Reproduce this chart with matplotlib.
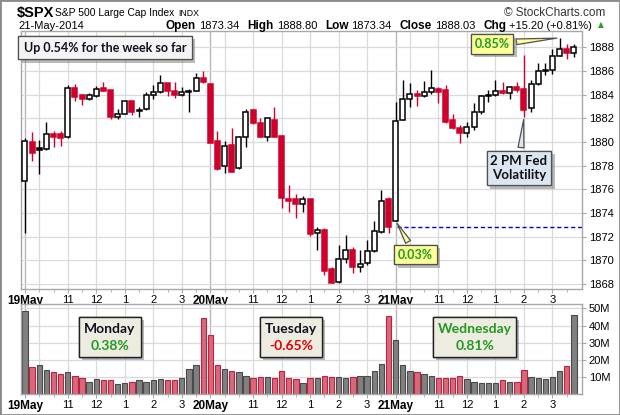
import matplotlib
matplotlib.use('Agg')
import matplotlib.pyplot as plt
import matplotlib.patheffects as pe
from matplotlib.patches import Rectangle
import numpy as np

W, H = 620, 415

# ---------------- data (15-minute bars, 19-21 May 2014) ----------------
op = [1876.7, 1880.0, 1879.5, 1879.4, 1880.7, 1880.7, 1880.4, 1884.6, 1884.0, 1883.65, 1883.9, 1884.55, 1884.4,
      1882.1, 1882.4, 1883.45, 1882.72, 1882.75, 1883.95, 1884.2, 1884.95, 1884.3, 1884.0, 1884.25, 1884.35, 1885.4,
      1884.9, 1880.1, 1878.0, 1879.75, 1877.8, 1880.4, 1882.7, 1881.6, 1880.45, 1881.9, 1880.5, 1875.2, 1875.2,
      1874.75, 1875.15, 1872.3, 1872.6, 1869.25, 1868.15, 1870.1, 1870.9, 1869.45, 1869.8, 1870.75, 1872.4, 1875.15,
      1873.34, 1881.9, 1883.6, 1884.05, 1883.85, 1884.2, 1884.45, 1884.4, 1881.85, 1881.15, 1880.8, 1881.25, 1882.5,
      1883.95, 1883.95, 1884.3, 1884.15, 1884.65, 1884.5, 1882.85, 1884.9, 1886.05, 1886.05, 1887.3, 1887.85, 1887.55]
hi = [1880.3, 1880.85, 1880.15, 1881.7, 1880.95, 1880.95, 1884.8, 1884.9, 1884.1, 1884.15, 1884.75, 1885.05, 1884.4,
      1882.75, 1883.45, 1883.45, 1882.95, 1884.2, 1884.8, 1885.65, 1884.95, 1885.1, 1884.65, 1884.5, 1885.85, 1886.0,
      1884.95, 1880.9, 1880.05, 1881.15, 1880.5, 1882.8, 1882.8, 1882.0, 1882.05, 1883.0, 1880.6, 1876.35, 1875.6,
      1875.4, 1875.2, 1872.85, 1872.7, 1869.45, 1871.3, 1872.15, 1871.1, 1870.85, 1871.75, 1873.35, 1875.95, 1875.35,
      1883.4, 1885.2, 1884.95, 1884.4, 1885.15, 1886.1, 1884.65, 1884.8, 1882.35, 1881.45, 1881.7, 1883.3, 1884.0,
      1884.4, 1885.25, 1885.05, 1884.7, 1885.05, 1887.35, 1885.25, 1886.65, 1886.7, 1887.85, 1888.8, 1888.3, 1888.3]
lo = [1872.3, 1878.4, 1877.3, 1879.3, 1879.6, 1879.7, 1880.3, 1883.5, 1883.15, 1883.55, 1883.8, 1884.3, 1881.95,
      1881.95, 1882.35, 1882.3, 1882.15, 1882.7, 1883.65, 1884.15, 1883.85, 1883.75, 1883.9, 1882.55, 1884.3, 1885.0,
      1879.9, 1877.6, 1877.4, 1877.45, 1877.7, 1879.6, 1881.55, 1880.4, 1880.1, 1880.4, 1874.45, 1874.1, 1873.6,
      1874.1, 1872.05, 1870.85, 1868.8, 1868.1, 1868.1, 1869.8, 1868.95, 1869.05, 1869.6, 1870.7, 1872.35, 1872.3,
      1873.34, 1881.85, 1883.0, 1883.05, 1883.8, 1884.1, 1883.3, 1881.65, 1881.1, 1879.9, 1880.4, 1881.0, 1882.4,
      1883.4, 1883.9, 1884.1, 1883.6, 1884.25, 1882.15, 1882.5, 1884.85, 1885.65, 1885.75, 1887.3, 1887.0, 1887.15]
cl = [1880.1, 1879.1, 1879.3, 1880.7, 1880.4, 1880.35, 1884.55, 1883.8, 1883.65, 1884.0, 1884.5, 1884.35, 1882.15,
      1882.4, 1883.45, 1882.55, 1882.6, 1883.95, 1884.2, 1884.95, 1884.35, 1883.95, 1884.2, 1884.2, 1885.4, 1885.1,
      1879.95, 1877.7, 1879.7, 1877.5, 1880.4, 1882.5, 1881.6, 1880.45, 1882.0, 1880.45, 1875.3, 1875.05, 1874.75,
      1875.15, 1872.25, 1872.6, 1869.1, 1868.1, 1870.15, 1870.9, 1869.45, 1869.7, 1870.75, 1872.45, 1875.05, 1872.83,
      1881.8, 1883.6, 1884.1, 1883.85, 1884.2, 1884.6, 1884.25, 1881.7, 1881.2, 1880.8, 1881.25, 1882.5, 1883.9,
      1883.9, 1884.3, 1884.15, 1884.65, 1884.4, 1882.7, 1884.9, 1886.0, 1886.0, 1887.25, 1887.85, 1887.55, 1888.03]
vol_m = [48.4, 15.5, 16.7, 14.3, 12.6, 11.4, 12.6, 10.8, 9.1, 7.3, 8.5, 7.9, 7.9, 6.1, 6.7, 7.3, 7.9, 7.3, 7.9, 8.5,
         7.9, 7.9, 9.6, 14.9, 17.2, 44.7,
         34.2, 16.7, 14.9, 13.7, 12.6, 10.8, 9.6, 10.2, 10.2, 9.6, 13.2, 9.1, 8.5, 6.7, 9.1, 9.6, 10.8, 10.2, 10.2,
         9.6, 10.2, 10.8, 10.8, 13.7, 17.8, 45.3,
         31.3, 16.7, 13.2, 12.6, 11.4, 10.8, 9.6, 9.1, 9.1, 10.8, 8.5, 7.3, 6.7, 6.7, 6.7, 7.9, 7.3, 7.3, 14.3, 10.2,
         9.6, 8.5, 10.2, 13.2, 16.1, 45.9]

day_labels = ['19May', '20May', '21May']
hour_labels = ['11', '12', '1', '2', '3']
bars_per_day = 26
hour_offsets = [6, 10, 14, 18, 22]
grid_offsets = [2, 6, 10, 14, 18, 22]
price_ticks = list(range(1868, 1889, 2))
vol_ticks = [10, 20, 30, 40, 50]

week_note = 'Up 0.54% for the week so far'
day_names = ['Monday', 'Tuesday', 'Wednesday']
day_changes = ['0.38%', '-0.65%', '0.81%']
fed_note = '2 PM Fed\nVolatility'

# ---------------- style ----------------
RED = '#D0002D'
GREEN = '#1E9A1E'
GRID = '#DADADA'
DAYGRID = '#B8B8B8'
SPINE = '#A8A8A8'
ANN_FONT = ['Lato', 'DejaVu Sans']
TXT_FONT = ['Liberation Sans', 'DejaVu Sans']
plt.rcParams['font.family'] = TXT_FONT

n = len(cl)
x = np.arange(n)
up = [True] + [cl[i] >= cl[i - 1] for i in range(1, n)]


def fx(px):
    return px / W


def fy(py):
    return 1 - py / H


fig = plt.figure(figsize=(W / 100, H / 100), dpi=100)
ax = fig.add_axes([fx(21), fy(289), fx(581.7) - fx(21), fy(31.5) - fy(289)])
axv = fig.add_axes([fx(21), fy(394), fx(581.7) - fx(21), fy(304) - fy(394)])

xmin, xmax = -0.56, 78.1
day_starts = [d * bars_per_day for d in range(len(day_labels))]
grid_pos = []
for d in day_starts:
    grid_pos += [d + g for g in grid_offsets]
label_pos, label_txt = [], []
for k, d in enumerate(day_starts):
    label_pos.append(d)
    label_txt.append(day_labels[k])
    for o, h in zip(hour_offsets, hour_labels):
        label_pos.append(d + o)
        label_txt.append(h)

for a in (ax, axv):
    a.set_xlim(xmin, xmax)
    for gp in grid_pos:
        a.axvline(gp, color=GRID, lw=0.9, zorder=0)
    for d in day_starts:
        a.axvline(d, color=DAYGRID, lw=1.0, zorder=0)
    for s in a.spines.values():
        s.set_color(SPINE)
        s.set_linewidth(1.0)
    a.yaxis.tick_right()
    a.tick_params(axis='y', which='both', direction='out', length=3, color=SPINE, labelsize=8, pad=2)
    a.set_xticks(label_pos)
    a.set_xticklabels(label_txt)
    a.set_xticks(np.arange(0, n, 2), minor=True)
    a.tick_params(axis='x', which='major', direction='out', length=3, color=SPINE, labelsize=8, pad=1.5)
    a.tick_params(axis='x', which='minor', direction='out', length=2, color=SPINE)
    for t in a.get_xticklabels():
        if t.get_text() in day_labels:
            t.set_fontweight('bold')
            t.set_fontsize(8.5)

# price panel
ax.set_ylim(1867.58, 1889.34)
ax.set_yticks(price_ticks)
ax.set_yticklabels([str(p) for p in price_ticks])
for p in price_ticks:
    ax.axhline(p, color=GRID, lw=0.9, zorder=0)

bw = 0.7
for i in range(n):
    c = 'black' if up[i] else RED
    ax.vlines(x[i], lo[i], hi[i], color=c, lw=1.0, zorder=2)
    b0 = min(op[i], cl[i])
    bh = max(abs(cl[i] - op[i]), 0.1)
    filled = cl[i] < op[i]
    ax.add_patch(Rectangle((x[i] - bw / 2, b0), bw, bh, facecolor=c if filled else 'white',
                           edgecolor=c, lw=1.1, zorder=3))

# previous close dashed line
ax.hlines(cl[day_starts[2] - 1], day_starts[2] + 0.2, xmax, colors='#0000CC',
          linestyles=(0, (3, 2)), lw=1.0, zorder=1)

# volume panel
axv.set_ylim(0, 52.6)
axv.set_yticks(vol_ticks)
axv.set_yticklabels([f'{v}M' for v in vol_ticks])
for v in vol_ticks:
    axv.axhline(v, color=GRID, lw=0.9, zorder=0)
vfc = ['#808080' if u else '#D46A7A' for u in up]
vec = ['#4A4A4A' if u else '#C22040' for u in up]
axv.bar(x, vol_m, width=0.75, color=vfc, edgecolor=vec, lw=0.8, zorder=2)

shadow = [pe.withSimplePatchShadow(offset=(2.5, -2.5), shadow_rgbFace='#777777', alpha=0.5), pe.Normal()]


def callout(text, xy, center, fc, color, fs):
    a = ax.annotate(text, xy=xy, xycoords='data', xytext=(center[0], H - center[1]),
                    textcoords='figure pixels', ha='center', va='center', fontsize=fs,
                    fontweight='bold', color=color, family=ANN_FONT, linespacing=1.25,
                    bbox=dict(boxstyle='square,pad=0.3', fc=fc, ec='#505050', lw=0.9),
                    arrowprops=dict(arrowstyle='wedge,tail_width=0.45,shrink_factor=0.5',
                                    fc=fc, ec='#505050', lw=0.9), zorder=6)
    a.get_bbox_patch().set_path_effects(shadow)
    return a


callout('0.85%', (int(np.argmax(hi)), max(hi)), (492, 44), '#FFFF99', GREEN, 9)
callout('0.03%', (day_starts[2], op[day_starts[2]]), (415.5, 254.5), '#FFFF99', GREEN, 9)
i_fed = day_starts[2] + int(np.argmin(lo[day_starts[2] + 14:day_starts[2] + 22])) + 14
callout(fed_note, (i_fed, lo[i_fed]), (519, 168), '#DCE6F2', '#111111', 9.5)

# week note
t = fig.text(fx(105), fy(47.5), week_note, ha='center', va='center', fontsize=9, fontweight='bold',
             family=ANN_FONT, color='#111122', zorder=6,
             bbox=dict(boxstyle='square,pad=0.45', fc='#F4F4F4', ec='#505050', lw=0.9))
t.get_bbox_patch().set_path_effects(shadow)

# day boxes in volume panel
boxes = [(79, 141), (260, 322), (433, 516)]
name_col = ['#111122', '#111122', GREEN]
chg_col = [GREEN, '#E00000', GREEN]
for (x0, x1), nm, ch, nc, cc in zip(boxes, day_names, day_changes, name_col, chg_col):
    r = Rectangle((fx(x0), fy(357)), fx(x1) - fx(x0), fy(317) - fy(357), transform=fig.transFigure,
                  facecolor='#EEECE1', edgecolor='#222222', lw=1.0, zorder=5)
    r.set_path_effects(shadow)
    fig.add_artist(r)
    xc = (x0 + x1) / 2
    fig.text(fx(xc), fy(328.5), nm, ha='center', va='center', fontsize=10, fontweight='bold',
             family=ANN_FONT, color=nc, zorder=6)
    fig.text(fx(xc), fy(346), ch, ha='center', va='center', fontsize=10, fontweight='bold',
             family=ANN_FONT, color=cc, zorder=6)

# header
renderer = fig.canvas.get_renderer()
fig.text(fx(17), fy(13), '$SPX', fontsize=10.5, fontweight='bold', va='center', ha='left')
nm_t = fig.text(fx(55), fy(13), 'S&P 500 Large Cap Index', fontsize=7.4, va='center', ha='left')
nb = nm_t.get_window_extent(renderer=renderer)
fig.text(fx(nb.x1 + 4), fy(13.5), 'INDX', fontsize=6.3, va='center', ha='left')
fig.text(fx(605), fy(13), '\u00a9 StockCharts.com', fontsize=8.5, va='center', ha='right', color='#333333')
fig.text(fx(18), fy(26), '21-May-2014', fontsize=8, va='center', ha='left')

d3 = slice(day_starts[2], n)
o3, h3, l3, c3 = op[d3][0], max(hi[d3]), min(lo[d3]), cl[-1]
prev = cl[day_starts[2] - 1]
chg = c3 - prev
parts = [('Open', True), (f'{o3:.2f}', False), ('High', True), (f'{h3:.2f}', False),
         ('Low', True), (f'{l3:.2f}', False), ('Close', True), (f'{c3:.2f}', False),
         ('Chg', True), (f'{chg:+.2f} ({chg / prev * 100:+.2f}%)', False)]
cx = 166
for s, bold in parts:
    tt = fig.text(fx(cx), fy(26), s, fontsize=8.5 if bold else 8, fontweight='bold' if bold else 'normal',
                  va='center', ha='left')
    bb = tt.get_window_extent(renderer=renderer)
    cx = bb.x1 + (3 if bold else 8)
fig.text(fx(cx - 2), fy(25), '\u25b2', fontsize=5.5, color='#2E9B2E', va='center', ha='left',
         family=['DejaVu Sans'])

# outer frame
fig.add_artist(Rectangle((0, 0), 1, 1, transform=fig.transFigure, fill=False, ec='#8A8A8A', lw=2.0, zorder=10))

fig.savefig('out.png', dpi=100)
